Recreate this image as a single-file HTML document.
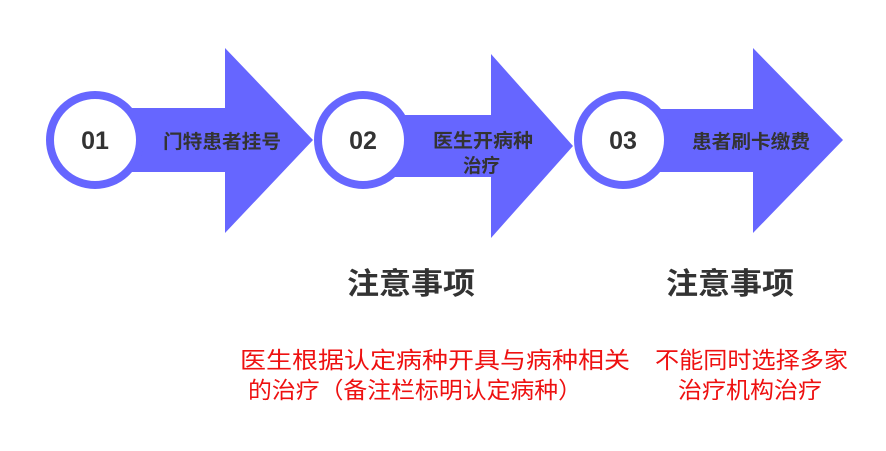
<!DOCTYPE html>
<html><head><meta charset="utf-8"><style>
body{margin:0;background:#fff;width:886px;height:451px;overflow:hidden;position:relative;font-family:"Liberation Sans","Noto Sans CJK SC",sans-serif}
</style></head><body>
<svg width="886" height="451" style="position:absolute;left:0;top:0">
<g fill="#6666ff">
<polygon points="95,108 225,108 225,48 313,140 225,233 225,172 95,172"/>
<polygon points="363,115 491,115 491,54 573,146 491,238 491,177 363,177"/>
<polygon points="623,109 753,109 753,48 843,140 753,233 753,172 623,172"/>
</g>
<g fill="#fff" stroke="#6666ff" stroke-width="8">
<circle cx="95" cy="140" r="45"/>
<circle cx="363" cy="140" r="45"/>
<circle cx="623" cy="140" r="45"/>
</g>
<g font-family="Liberation Sans, sans-serif" font-weight="bold" font-size="25" fill="#333" text-anchor="middle">
<text x="95" y="149">01</text><text x="363" y="149">02</text><text x="623" y="149">03</text>
</g>
<g font-family="Liberation Sans, Noto Sans CJK SC, sans-serif" font-weight="bold" font-size="19" fill="#333">
<text x="163" y="148" textLength="118" lengthAdjust="spacingAndGlyphs">门特患者挂号</text>
<text x="433" y="147" textLength="100" lengthAdjust="spacingAndGlyphs">医生开病种</text>
<text x="463" y="172" textLength="37" lengthAdjust="spacingAndGlyphs">治疗</text>
<text x="692" y="148" textLength="118" lengthAdjust="spacingAndGlyphs">患者刷卡缴费</text>
</g>
<g font-family="Liberation Sans, Noto Sans CJK SC, sans-serif" font-weight="bold" font-size="30" fill="#333">
<text x="347" y="294" textLength="128" lengthAdjust="spacingAndGlyphs">注意事项</text>
<text x="666" y="294" textLength="128" lengthAdjust="spacingAndGlyphs">注意事项</text>
</g>
<g font-family="Liberation Sans, Noto Sans CJK SC, sans-serif" font-size="23" fill="#ee1111">
<text x="240" y="368" textLength="390" lengthAdjust="spacingAndGlyphs">医生根据认定病种开具与病种相关</text>
<text x="248" y="398" textLength="334" lengthAdjust="spacingAndGlyphs">的治疗（备注栏标明认定病种）</text>
<text x="655" y="368" textLength="193" lengthAdjust="spacingAndGlyphs">不能同时选择多家</text>
<text x="678" y="398" textLength="144" lengthAdjust="spacingAndGlyphs">治疗机构治疗</text>
</g>
</svg>
</body></html>
